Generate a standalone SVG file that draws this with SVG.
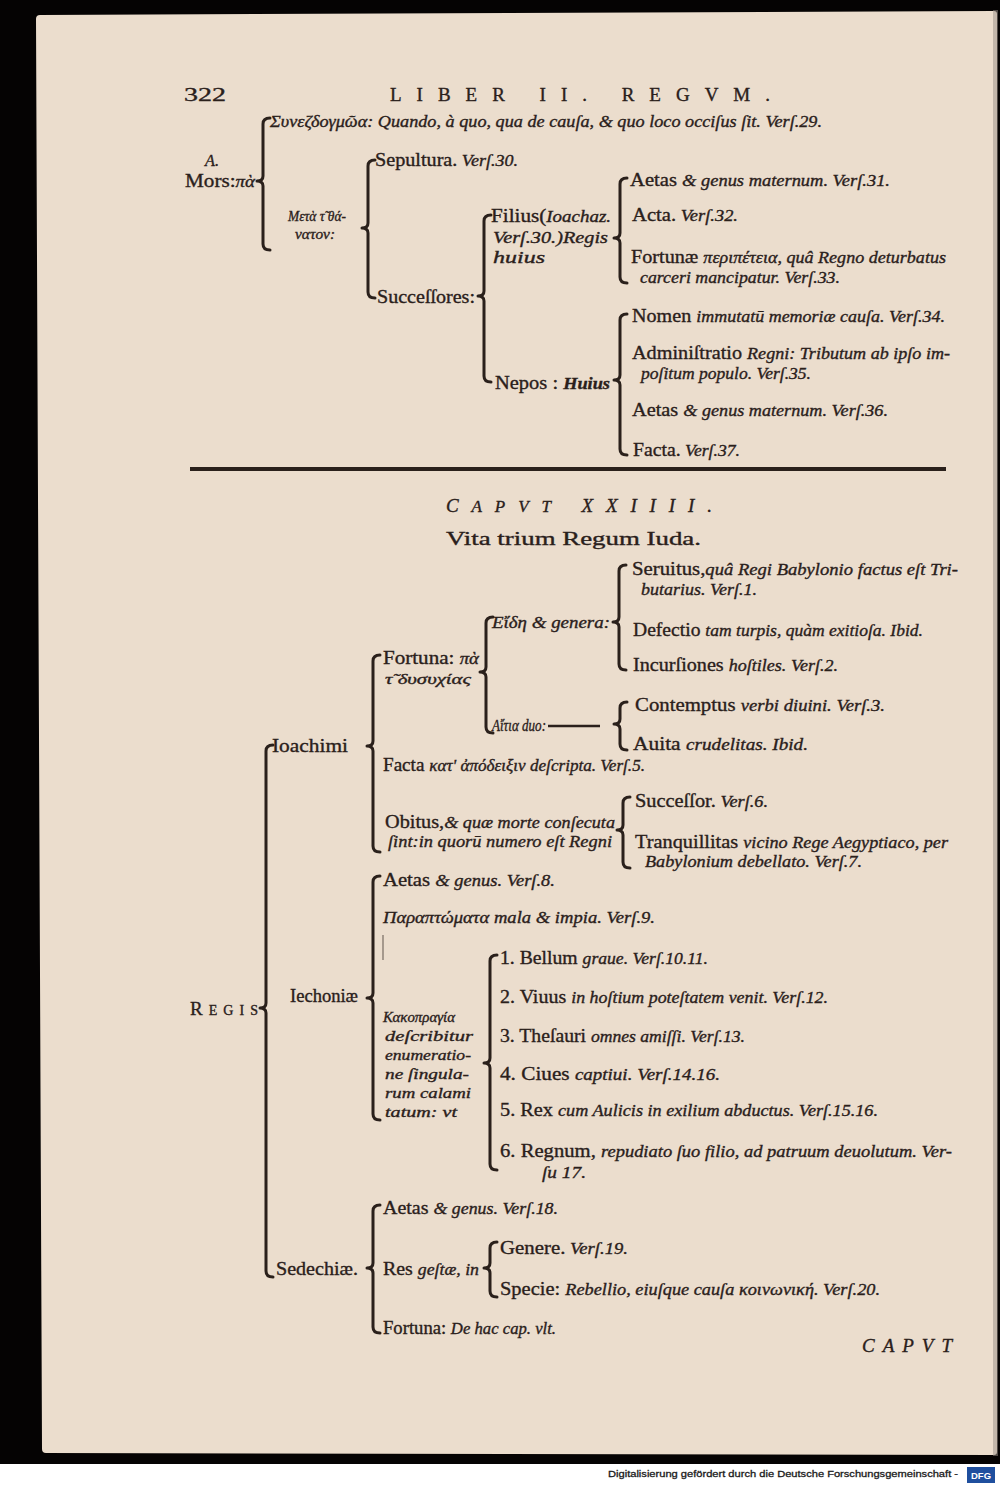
<svg xmlns="http://www.w3.org/2000/svg" width="1000" height="1485" viewBox="0 0 1000 1485">
<style>
.t{font-family:"Liberation Serif","DejaVu Serif",serif;font-size:19px;fill:#2a201b;stroke:#2a201b;stroke-width:0.35}
.i{font-style:italic}
.sm{font-size:17px}
.xs{font-size:15px}
.br{fill:none;stroke:#2a201b;stroke-width:3;stroke-linecap:round;stroke-linejoin:round}
.ft{font-family:"Liberation Sans","DejaVu Sans",sans-serif;font-size:9.5px;fill:#1a1a1a;stroke:#1a1a1a;stroke-width:0.3}
</style>
<rect x="0" y="0" width="1000" height="1485" fill="#050303"/>
<rect x="0" y="1464" width="1000" height="21" fill="#ffffff"/>
<path d="M40,15 L994,11 Q997,11 997,14 L997,1452 Q997,1455 994,1455 L46,1453 Q42,1453 42,1449 L36,19 Q36,15 40,15 Z" fill="#ebddcd"/>
<rect x="993" y="10" width="5" height="1446" fill="#9a9088" opacity="0.5"/>

<g id="header">
<text class="t" x="184" y="101" font-size="21" textLength="42" lengthAdjust="spacingAndGlyphs">322</text>
<text class="t" x="390" y="101" font-size="26" textLength="380" lengthAdjust="spacing">LIBER II. REGVM.</text>
</g>

<g id="connectors">
<path class="br" d="M270,118 Q263,118 263,124 L263,176 Q263,181 257,181 Q263,181 263,186 L263,244 Q263,250 270,250"/>
<path class="br" d="M375,160 Q368,160 368,166 L368,223 Q368,228 362,228 Q368,228 368,233 L368,292 Q368,298 375,298"/>
<path class="br" d="M491,215 Q484,215 484,221 L484,291 Q484,296 478,296 Q484,296 484,301 L484,376 Q484,382 491,382"/>
<path class="br" d="M627,178 Q620,178 620,184 L620,233 Q620,238 614,238 Q620,238 620,243 L620,277 Q620,283 627,283"/>
<path class="br" d="M627,314 Q620,314 620,320 L620,375 Q620,380 614,380 Q620,380 620,385 L620,449 Q620,455 627,455"/>
<path class="br" d="M273,745 Q266,745 266,751 L266,1003 Q266,1008 260,1008 Q266,1008 266,1013 L266,1271 Q266,1277 273,1277"/>
<path class="br" d="M380,655 Q373,655 373,661 L373,741 Q373,746 367,746 Q373,746 373,751 L373,846 Q373,852 380,852"/>
<path class="br" d="M493,617 Q486,617 486,623 L486,667 Q486,672 480,672 Q486,672 486,677 L486,727 Q486,733 493,733"/>
<path class="br" d="M626,565 Q619,565 619,571 L619,617 Q619,622 613,622 Q619,622 619,627 L619,664 Q619,670 626,670"/>
<path class="br" d="M627,702 Q620,702 620,708 L620,719 Q620,724 614,724 Q620,724 620,729 L620,744 Q620,750 627,750"/>
<path class="br" d="M630,797 Q623,797 623,803 L623,825 Q623,830 617,830 Q623,830 623,835 L623,862 Q623,868 630,868"/>
<path class="br" d="M380,876 Q373,876 373,882 L373,993 Q373,998 367,998 Q373,998 373,1003 L373,1114 Q373,1120 380,1120"/>
<path class="br" d="M497,955 Q490,955 490,961 L490,1058 Q490,1063 484,1063 Q490,1063 490,1068 L490,1164 Q490,1170 497,1170"/>
<path class="br" d="M380,1205 Q373,1205 373,1211 L373,1263 Q373,1268 367,1268 Q373,1268 373,1273 L373,1327 Q373,1333 380,1333"/>
<path class="br" d="M497,1242 Q490,1242 490,1248 L490,1263 Q490,1268 484,1268 Q490,1268 490,1273 L490,1291 Q490,1297 497,1297"/>
<line x1="548" y1="726" x2="600" y2="726" stroke="#2a201b" stroke-width="2.4"/>
<line x1="383" y1="935" x2="383" y2="960" stroke="#2a201b" stroke-width="1.2" opacity="0.6"/>
</g>

<g id="mors">
<text class="t i sm" x="205" y="166" textLength="14" lengthAdjust="spacingAndGlyphs">A.</text>
<text class="t" x="185" y="187" textLength="70" lengthAdjust="spacingAndGlyphs">Mors:<tspan class="i sm">πὰ</tspan></text>
</g>
<g id="synecdoche">
<text class="t i sm" x="270" y="127" textLength="552" lengthAdjust="spacingAndGlyphs">Συνεζδογμῶα: Quando, à quo, qua de cauſa, &amp; quo loco occiſus ſit. Verſ.29.</text>
</g>
<g id="meta-thanaton">
<text class="t i xs" x="288" y="221" textLength="58" lengthAdjust="spacingAndGlyphs">Μετὰ τ̃ θά-</text>
<text class="t i xs" x="295" y="239" textLength="40" lengthAdjust="spacingAndGlyphs">νατον:</text>
</g>
<g id="sepultura">
<text class="t" x="375" y="166" textLength="143" lengthAdjust="spacingAndGlyphs">Sepultura.<tspan class="i sm"> Verſ.30.</tspan></text>
</g>
<g id="successores">
<text class="t" x="377" y="303" textLength="98" lengthAdjust="spacingAndGlyphs">Succeſſores:</text>
</g>
<g id="filius">
<text class="t" x="491" y="222" textLength="120" lengthAdjust="spacingAndGlyphs">Filius(<tspan class="i sm">Ioachaz.</tspan></text>
<text class="t i sm" x="493" y="243" textLength="115" lengthAdjust="spacingAndGlyphs">Verſ.30.)Regis</text>
<text class="t i sm" x="493" y="263" textLength="52" lengthAdjust="spacingAndGlyphs">huius</text>
</g>
<g id="nepos">
<text class="t" x="495" y="389" textLength="115" lengthAdjust="spacingAndGlyphs">Nepos : <tspan class="i sm" font-weight="bold">Huius</tspan></text>
</g>
<g id="filius-aetas">
<text class="t" x="630" y="186" textLength="260" lengthAdjust="spacingAndGlyphs">Aetas <tspan class="i sm">&amp; genus maternum. Verſ.31.</tspan></text>
</g>
<g id="filius-acta">
<text class="t" x="632" y="221" textLength="106" lengthAdjust="spacingAndGlyphs">Acta.<tspan class="i sm"> Verſ.32.</tspan></text>
</g>
<g id="filius-fortuna">
<text class="t" x="631" y="263" textLength="315" lengthAdjust="spacingAndGlyphs">Fortunæ <tspan class="i sm">περιπέτεια, quâ Regno deturbatus</tspan></text>
<text class="t i sm" x="640" y="283" textLength="200" lengthAdjust="spacingAndGlyphs">carceri mancipatur. Verſ.33.</text>
</g>
<g id="nepos-nomen">
<text class="t" x="632" y="322" textLength="313" lengthAdjust="spacingAndGlyphs">Nomen <tspan class="i sm">immutatū memoriæ cauſa. Verſ.34.</tspan></text>
</g>
<g id="nepos-administratio">
<text class="t" x="632" y="359" textLength="318" lengthAdjust="spacingAndGlyphs">Adminiſtratio <tspan class="i sm">Regni: Tributum ab ipſo im-</tspan></text>
<text class="t i sm" x="641" y="379" textLength="170" lengthAdjust="spacingAndGlyphs">poſitum populo. Verſ.35.</text>
</g>
<g id="nepos-aetas">
<text class="t" x="632" y="416" textLength="256" lengthAdjust="spacingAndGlyphs">Aetas <tspan class="i sm">&amp; genus maternum. Verſ.36.</tspan></text>
</g>
<g id="nepos-facta">
<text class="t" x="633" y="456" textLength="107" lengthAdjust="spacingAndGlyphs">Facta.<tspan class="i sm"> Verſ.37.</tspan></text>
</g>

<line x1="190" y1="469" x2="946" y2="469" stroke="#2a201b" stroke-width="3.8"/>

<g id="chapter-title">
<text class="t i" x="446" y="512" font-size="24" textLength="266" lengthAdjust="spacing">C<tspan font-size="17">APVT</tspan> XXIIII.</text>
<text class="t" x="446" y="545" font-size="29" textLength="255" lengthAdjust="spacingAndGlyphs">Vita trium Regum Iuda.</text>
</g>

<g id="regis">
<text class="t" x="190" y="1015" font-size="18" textLength="68" lengthAdjust="spacing">R<tspan font-size="14">EGIS</tspan></text>
</g>
<g id="ioachimi">
<text class="t" x="272" y="752" textLength="76" lengthAdjust="spacingAndGlyphs">Ioachimi</text>
</g>
<g id="fortuna-ioachimi">
<text class="t" x="383" y="664" textLength="96" lengthAdjust="spacingAndGlyphs">Fortuna: <tspan class="i sm">πὰ</tspan></text>
<text class="t i xs" x="385" y="684" textLength="86" lengthAdjust="spacingAndGlyphs">τ̃ δυσυχίας</text>
</g>
<g id="eide">
<text class="t i sm" x="492" y="628" textLength="118" lengthAdjust="spacingAndGlyphs">Εἴδη &amp; genera:</text>
</g>
<g id="seruitus">
<text class="t" x="632" y="575" textLength="326" lengthAdjust="spacingAndGlyphs">Seruitus,<tspan class="i sm">quâ Regi Babylonio factus eſt Tri-</tspan></text>
<text class="t i sm" x="641" y="595" textLength="116" lengthAdjust="spacingAndGlyphs">butarius. Verſ.1.</text>
</g>
<g id="defectio">
<text class="t" x="633" y="636" textLength="290" lengthAdjust="spacingAndGlyphs">Defectio <tspan class="i sm">tam turpis, quàm exitioſa. Ibid.</tspan></text>
</g>
<g id="incursiones">
<text class="t" x="633" y="671" textLength="205" lengthAdjust="spacingAndGlyphs">Incurſiones <tspan class="i sm">hoſtiles. Verſ.2.</tspan></text>
</g>
<g id="aitia">
<text class="t i sm" x="492" y="731" textLength="54" lengthAdjust="spacingAndGlyphs">Αἴτια duo:</text>
</g>
<g id="contemptus">
<text class="t" x="635" y="711" textLength="250" lengthAdjust="spacingAndGlyphs">Contemptus <tspan class="i sm">verbi diuini. Verſ.3.</tspan></text>
</g>
<g id="auita">
<text class="t" x="633" y="750" textLength="175" lengthAdjust="spacingAndGlyphs">Auita <tspan class="i sm">crudelitas. Ibid.</tspan></text>
</g>
<g id="facta-ioachimi">
<text class="t" x="383" y="771" textLength="262" lengthAdjust="spacingAndGlyphs">Facta <tspan class="i sm">κατ' ἀπόδειξιν deſcripta. Verſ.5.</tspan></text>
</g>
<g id="obitus">
<text class="t" x="385" y="828" textLength="230" lengthAdjust="spacingAndGlyphs">Obitus,<tspan class="i sm">&amp; quæ morte conſecuta</tspan></text>
<text class="t i sm" x="388" y="847" textLength="224" lengthAdjust="spacingAndGlyphs">ſint:in quorū numero eſt Regni</text>
</g>
<g id="successor">
<text class="t" x="635" y="807" textLength="133" lengthAdjust="spacingAndGlyphs">Succeſſor.<tspan class="i sm"> Verſ.6.</tspan></text>
</g>
<g id="tranquillitas">
<text class="t" x="635" y="848" textLength="313" lengthAdjust="spacingAndGlyphs">Tranquillitas <tspan class="i sm">vicino Rege Aegyptiaco, per</tspan></text>
<text class="t i sm" x="645" y="867" textLength="217" lengthAdjust="spacingAndGlyphs">Babylonium debellato. Verſ.7.</text>
</g>

<g id="iechoniae">
<text class="t" x="290" y="1002" textLength="68" lengthAdjust="spacingAndGlyphs">Iechoniæ</text>
</g>
<g id="iechoniae-aetas">
<text class="t" x="383" y="886" textLength="172" lengthAdjust="spacingAndGlyphs">Aetas <tspan class="i sm">&amp; genus. Verſ.8.</tspan></text>
</g>
<g id="paraptomata">
<text class="t i sm" x="383" y="923" textLength="272" lengthAdjust="spacingAndGlyphs">Παραπτώματα mala &amp; impia. Verſ.9.</text>
</g>
<g id="kakopragia">
<text class="t i xs" x="383" y="1022" textLength="72" lengthAdjust="spacingAndGlyphs">Κακοπραγία</text>
<text class="t i xs" x="385" y="1041" textLength="88" lengthAdjust="spacingAndGlyphs">deſcribitur</text>
<text class="t i xs" x="385" y="1060" textLength="86" lengthAdjust="spacingAndGlyphs">enumeratio-</text>
<text class="t i xs" x="385" y="1079" textLength="84" lengthAdjust="spacingAndGlyphs">ne ſingula-</text>
<text class="t i xs" x="385" y="1098" textLength="86" lengthAdjust="spacingAndGlyphs">rum calami</text>
<text class="t i xs" x="385" y="1117" textLength="72" lengthAdjust="spacingAndGlyphs">tatum: vt</text>
</g>
<g id="calamitas-1">
<text class="t" x="500" y="964" textLength="208" lengthAdjust="spacingAndGlyphs">1. Bellum <tspan class="i sm">graue. Verſ.10.11.</tspan></text>
</g>
<g id="calamitas-2">
<text class="t" x="500" y="1003" textLength="328" lengthAdjust="spacingAndGlyphs">2. Viuus <tspan class="i sm">in hoſtium poteſtatem venit. Verſ.12.</tspan></text>
</g>
<g id="calamitas-3">
<text class="t" x="500" y="1042" textLength="245" lengthAdjust="spacingAndGlyphs">3. Theſauri <tspan class="i sm">omnes amiſſi. Verſ.13.</tspan></text>
</g>
<g id="calamitas-4">
<text class="t" x="500" y="1080" textLength="220" lengthAdjust="spacingAndGlyphs">4. Ciues <tspan class="i sm">captiui. Verſ.14.16.</tspan></text>
</g>
<g id="calamitas-5">
<text class="t" x="500" y="1116" textLength="378" lengthAdjust="spacingAndGlyphs">5. Rex <tspan class="i sm">cum Aulicis in exilium abductus. Verſ.15.16.</tspan></text>
</g>
<g id="calamitas-6">
<text class="t" x="500" y="1157" textLength="452" lengthAdjust="spacingAndGlyphs">6. Regnum, <tspan class="i sm">repudiato ſuo filio, ad patruum deuolutum. Ver-</tspan></text>
<text class="t i sm" x="542" y="1178" textLength="44" lengthAdjust="spacingAndGlyphs">ſu 17.</text>
</g>

<g id="sedechiae">
<text class="t" x="276" y="1275" textLength="82" lengthAdjust="spacingAndGlyphs">Sedechiæ.</text>
</g>
<g id="sedechiae-aetas">
<text class="t" x="383" y="1214" textLength="175" lengthAdjust="spacingAndGlyphs">Aetas <tspan class="i sm">&amp; genus. Verſ.18.</tspan></text>
</g>
<g id="res-gestae">
<text class="t" x="383" y="1275" textLength="96" lengthAdjust="spacingAndGlyphs">Res <tspan class="i sm">geſtæ, in</tspan></text>
</g>
<g id="genere">
<text class="t" x="500" y="1254" textLength="128" lengthAdjust="spacingAndGlyphs">Genere.<tspan class="i sm"> Verſ.19.</tspan></text>
</g>
<g id="specie">
<text class="t" x="500" y="1295" textLength="380" lengthAdjust="spacingAndGlyphs">Specie: <tspan class="i sm">Rebellio, eiuſque cauſa κοινωνική. Verſ.20.</tspan></text>
</g>
<g id="sedechiae-fortuna">
<text class="t" x="383" y="1334" textLength="173" lengthAdjust="spacingAndGlyphs">Fortuna: <tspan class="i sm">De hac cap. vlt.</tspan></text>
</g>

<g id="catchword">
<text class="t i" x="862" y="1352" font-size="18" textLength="90" lengthAdjust="spacing">CAPVT</text>
</g>

<g id="footer">
<text class="ft" x="608" y="1477" textLength="350" lengthAdjust="spacingAndGlyphs">Digitalisierung gefördert durch die Deutsche Forschungsgemeinschaft -</text>
<rect x="967" y="1467" width="28" height="16" fill="#1f4f9e"/>
<text x="981" y="1479" text-anchor="middle" font-family="Liberation Sans, sans-serif" font-size="9.5" font-weight="bold" fill="#ffffff">DFG</text>
</g>
</svg>
